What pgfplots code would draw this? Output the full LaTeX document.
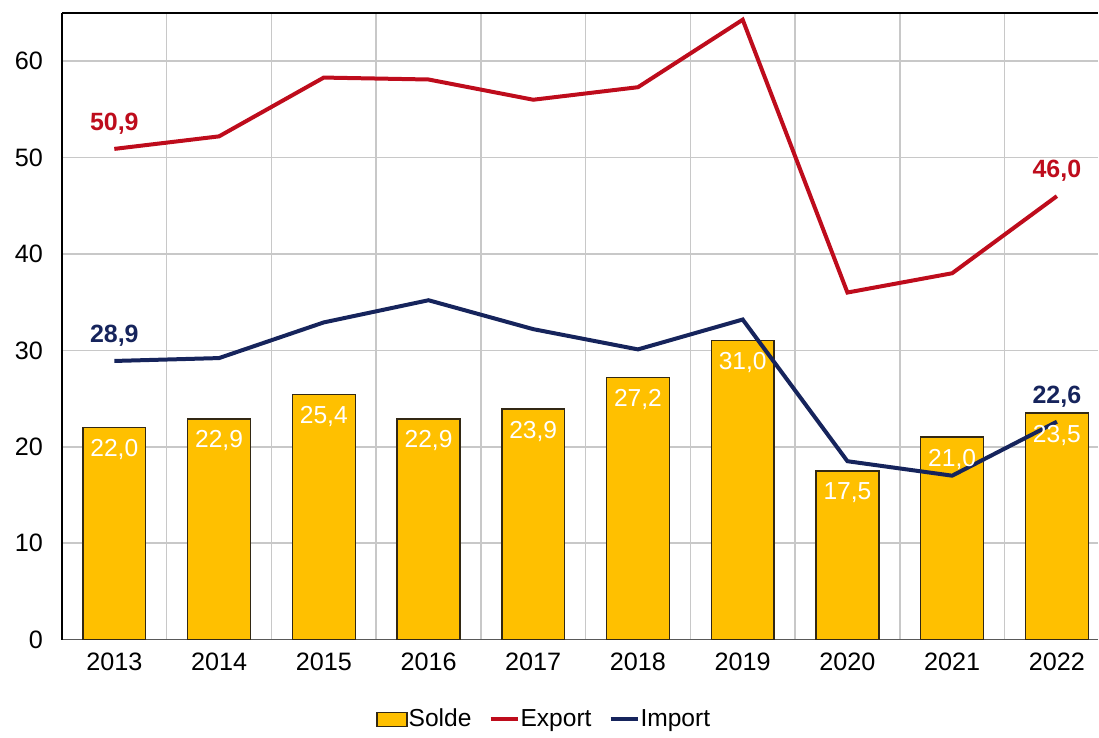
\documentclass[border=0pt]{standalone}
\usepackage{fontspec}
\setmainfont{Liberation Sans}
\usepackage{pgfplots}
\usepackage{pgfplotstable}
\pgfplotsset{compat=1.18}
\definecolor{gold}{RGB}{255,192,0}
\definecolor{barline}{RGB}{50,40,20}
\definecolor{exportc}{RGB}{190,12,28}
\definecolor{importc}{RGB}{22,36,92}
\definecolor{gridc}{RGB}{200,200,200}
\pgfplotstableread{
x solde lsolde export import
0 22.0 22,0 50.9 28.9
1 22.9 22,9 52.2 29.2
2 25.4 25,4 58.3 32.9
3 22.9 22,9 58.1 35.2
4 23.9 23,9 56.0 32.2
5 27.2 27,2 57.3 30.1
6 31.0 31,0 64.3 33.2
7 17.5 17,5 36.0 18.5
8 21.0 21,0 38.0 17.0
9 23.5 23,5 46.0 22.6
}\data
\pgfplotstableread{
x y lab
0 50.9 50,9
9 46.0 46,0
}\exportlab
\pgfplotstableread{
x y lab
0 28.9 28,9
9 22.6 22,6
}\importlab
\begin{document}
\begin{tikzpicture}
\begin{axis}[
  name=ax,
  scale only axis, width=518.5pt, height=313.5pt,
  xmin=-0.5, xmax=9.395, ymin=0, ymax=65,
  axis lines*=left,
  x axis line style={draw=black!65, line width=0.7pt, -},
  y axis line style={draw=black, line width=0.6pt, -},
  xtick={0,...,9},
  xticklabels={2013,2014,2015,2016,2017,2018,2019,2020,2021,2022},
  minor xtick={0.5,1.5,...,9.5},
  ytick={0,10,...,60},
  xminorgrids=true, ymajorgrids=true, xmajorgrids=false,
  grid style={draw=gridc, line width=0.75pt},
  minor grid style={draw=gridc, line width=0.75pt},
  major tick length=0pt, minor tick length=0pt,
  tick style={draw=none},
  tick label style={font=\fontsize{12.6}{14}\selectfont},
  /pgf/number format/assume math mode=true,
  yticklabel style={xshift=-6pt},
  xticklabel style={yshift=-3pt},
  legend columns=3,
  legend style={at={(0.465,-0.1276)}, anchor=center, draw=none, fill=none,
    font=\fontsize{12.3}{14}\selectfont, inner xsep=0pt,
    nodes={inner xsep=0.5pt},
    /tikz/every odd column/.append style={column sep=0pt},
    /tikz/every even column/.append style={column sep=8pt}},
  after end axis/.code={\draw[black, line width=0.6pt] (rel axis cs:0,1) -- (rel axis cs:1,1);},
]
\addplot[ybar, bar width=0.6, fill=gold, draw=barline, line width=0.7pt,
  nodes near coords, point meta=explicit symbolic,
  every node near coord/.append style={anchor=center, yshift=-11pt, text=white,
    font=\fontsize{12.3}{14}\selectfont},
  legend image code/.code={\draw[fill=gold, draw=barline, line width=0.6pt] (0pt,-3.5pt) rectangle (15pt,3.5pt);}]
  table[x=x, y=solde, meta=lsolde] {\data};
\addlegendentry{Solde}
\addplot[exportc, line width=2pt, mark=none,
  legend image code/.code={\draw[exportc, line width=2pt] (0pt,0pt) -- (13.5pt,0pt);}]
  table[x=x, y=export] {\data};
\addlegendentry{Export}
\addplot[importc, line width=2pt, mark=none,
  legend image code/.code={\draw[importc, line width=2pt] (0pt,0pt) -- (13.5pt,0pt);}]
  table[x=x, y=import] {\data};
\addlegendentry{Import}
\addplot[draw=none, mark=none, forget plot, nodes near coords, point meta=explicit symbolic,
  every node near coord/.append style={anchor=center, yshift=12.5pt, text=exportc,
    font=\fontsize{12.5}{14}\selectfont\bfseries}]
  table[x=x, y=y, meta=lab] {\exportlab};
\addplot[draw=none, mark=none, forget plot, nodes near coords, point meta=explicit symbolic,
  every node near coord/.append style={anchor=center, yshift=12.5pt, text=importc,
    font=\fontsize{12.5}{14}\selectfont\bfseries}]
  table[x=x, y=y, meta=lab] {\importlab};
\end{axis}
\path ([shift={(-31pt,-46.5pt)}]ax.south west) rectangle ([shift={(0pt,6.5pt)}]ax.north east);
\end{tikzpicture}
\end{document}
